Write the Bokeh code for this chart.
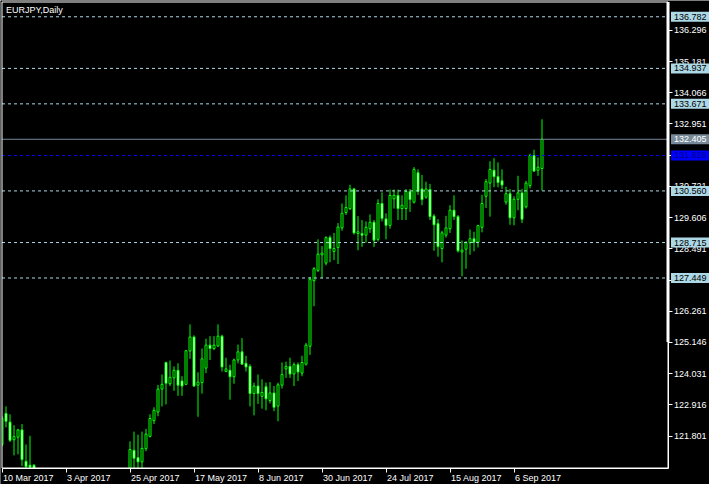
import math
from bokeh.plotting import figure
from bokeh.models import ColumnDataSource, FixedTicker, LinearAxis, Range1d, Label
from bokeh.core.properties import value
from bokeh.embed import file_html
from bokeh.resources import INLINE

nan = float("nan")

# Daily EURJPY candles, bar index 0 = 10 Mar 2017 (weekdays only)
opens = [121.50, 122.61, 122.30, 121.67, 121.76, 122.02, 120.90, 120.76, 120.76] + [nan] * 23 + [
    120.59, 121.29, 121.03, 120.88, 121.35, 121.79, 122.35, 122.66, 123.48, 124.43,
    123.67, 123.88, 124.15, 123.77, 123.65, 124.84, 125.34, 123.62, 123.71, 124.23,
    125.05, 124.93, 125.02, 125.37, 124.11, 124.15, 123.92, 124.52, 124.81, 124.40,
    124.29, 123.32, 123.59, 123.22, 123.56, 123.07, 123.34, 122.87, 123.62, 124.20,
    124.29, 124.02, 124.35, 124.05, 124.37, 125.01, 127.35, 127.72, 128.28, 127.98,
    128.89, 128.40, 128.54, 129.24, 129.79, 129.93, 130.63, 129.04, 129.04, 128.98,
    129.21, 129.44, 128.83, 130.11, 129.56, 129.33, 130.28, 130.40, 129.93, 129.93,
    130.54, 130.16, 131.21, 130.63, 130.34, 130.61, 129.66, 129.39, 128.50, 128.98,
    129.21, 129.87, 129.64, 128.38, 128.48, 128.71, 128.85, 128.73, 129.26, 130.37,
    130.84, 131.30, 131.07, 130.92, 130.16, 130.46, 129.60, 130.26, 130.49, 129.99,
    130.75, 131.82, 131.30, 131.36]
highs = [122.51, 122.86, 122.58, 122.19, 122.06, 122.23, 121.50, 121.81, 120.80] + [nan] * 23 + [
    121.61, 121.96, 121.85, 121.96, 122.06, 122.58, 122.83, 123.63, 124.00, 124.46,
    124.50, 124.29, 124.40, 123.94, 124.87, 125.79, 125.40, 124.08, 124.93, 125.28,
    125.37, 125.37, 125.79, 125.42, 124.60, 124.35, 124.57, 125.07, 125.30, 124.67,
    124.37, 123.71, 124.00, 123.83, 123.71, 123.73, 123.59, 123.71, 124.43, 124.46,
    124.60, 124.43, 124.43, 124.67, 125.13, 127.49, 127.84, 128.83, 128.59, 128.94,
    128.97, 129.06, 129.41, 130.11, 130.40, 130.78, 130.67, 129.66, 129.52, 129.47,
    129.72, 129.52, 130.26, 130.51, 129.76, 130.61, 130.61, 130.61, 130.40, 130.63,
    130.63, 131.41, 131.33, 131.13, 130.89, 130.81, 129.73, 129.55, 129.14, 129.67,
    130.05, 130.40, 129.70, 128.79, 128.77, 129.18, 129.10, 129.35, 130.42, 130.98,
    131.62, 131.73, 131.58, 131.33, 130.71, 130.63, 130.37, 131.10, 130.63, 130.92,
    131.89, 132.03, 131.76, 133.12]
lows = [121.43, 122.11, 121.59, 121.11, 121.15, 120.73, 120.55, 120.55, 120.48] + [nan] * 23 + [
    120.48, 120.59, 120.59, 120.59, 121.26, 121.75, 122.23, 122.51, 122.86, 122.93,
    123.59, 123.42, 123.24, 123.24, 123.62, 124.56, 123.56, 122.49, 123.32, 124.05,
    124.52, 124.87, 124.99, 124.11, 124.08, 123.10, 123.67, 124.40, 124.35, 124.11,
    122.86, 122.54, 122.95, 122.78, 122.72, 122.97, 122.69, 122.33, 123.50, 123.88,
    123.88, 123.59, 123.77, 123.94, 124.32, 124.70, 126.44, 127.66, 127.43, 127.90,
    128.01, 128.09, 127.95, 129.14, 129.70, 129.87, 129.00, 128.44, 128.56, 128.71,
    129.06, 128.56, 128.75, 129.47, 128.83, 129.21, 129.93, 129.52, 129.52, 129.52,
    129.81, 130.11, 130.42, 130.05, 130.28, 129.52, 128.42, 128.21, 128.01, 128.89,
    129.06, 129.52, 128.36, 127.51, 127.78, 128.28, 128.40, 128.54, 129.08, 129.95,
    129.64, 130.69, 130.69, 130.63, 130.07, 129.35, 129.33, 129.87, 129.41, 129.93,
    130.65, 131.23, 131.10, 130.57]
closes = [122.44, 122.33, 121.65, 121.78, 122.02, 120.96, 120.71, 120.69, 120.59] + [nan] * 23 + [
    121.32, 121.01, 120.88, 121.36, 121.87, 122.43, 122.72, 123.48, 123.65, 123.69,
    123.90, 124.15, 123.62, 123.59, 124.85, 125.34, 123.59, 123.73, 124.56, 125.05,
    124.93, 125.05, 125.37, 124.27, 124.20, 123.92, 124.52, 124.81, 124.37, 124.27,
    123.32, 123.59, 123.32, 123.36, 123.13, 123.34, 122.83, 123.63, 124.00, 124.29,
    124.02, 124.35, 124.09, 124.43, 125.05, 127.40, 127.78, 128.30, 128.34, 128.89,
    128.50, 128.50, 129.27, 129.76, 129.97, 130.63, 129.06, 129.10, 128.98, 129.26,
    129.44, 128.80, 130.11, 129.58, 129.33, 130.40, 130.40, 129.93, 130.05, 130.54,
    130.25, 131.33, 130.54, 130.25, 130.63, 129.64, 129.35, 128.57, 129.06, 129.24,
    129.87, 129.64, 128.42, 128.44, 128.71, 128.85, 128.73, 129.32, 130.11, 130.89,
    131.33, 131.07, 130.86, 130.77, 130.46, 129.60, 130.26, 130.49, 129.55, 130.84,
    131.82, 131.27, 131.41, 132.41]

date_ticks = [0, 16, 32, 48, 64, 80, 96, 112, 128]
date_labels = ["10 Mar 2017", "3 Apr 2017", "25 Apr 2017", "17 May 2017", "8 Jun 2017",
               "30 Jun 2017", "24 Jul 2017", "15 Aug 2017", "6 Sep 2017"]
price_tick_labels = ["136.296", "135.181", "134.066", "132.951", "131.836", "130.721",
                     "129.606", "128.491", "127.376", "126.261", "125.146", "124.031",
                     "122.916", "121.801"]
level_prices = [136.782, 134.937, 133.671, 130.560, 128.715, 127.449]
bid_price = 132.405
blue_price = 131.826
title_text = "EURJPY,Daily"

# ---- layout (screen geometry) ----
W, H = 709, 484
SX = 4.0                     # px per bar
CHART_L, CHART_R = 0.0, 166.5
PX_L = 1.5                   # screen x of the chart's left border
Y_BOT, Y_TOP = 120.66, 137.31
PX_T, CH = 1.5, 466.0        # screen y of top border, chart height in px
SY = CH / (Y_TOP - Y_BOT)
x_start = CHART_L - PX_L / SX
x_end = x_start + W / SX
y_end = Y_TOP + PX_T / SY
y_start = y_end - H / SY

GREEN = "#00FF00"
LBLUE = "#ADD8E6"
FONT = "Liberation Sans"
FS = "9px"

p = figure(width=W, height=H, x_range=Range1d(x_start, x_end),
           y_range=Range1d(y_start, y_end), output_backend="svg",
           toolbar_location=None, background_fill_color="black",
           border_fill_color="black", outline_line_color=None,
           x_axis_location=None, y_axis_location=None, min_border=0)
p.xgrid.visible = False
p.ygrid.visible = False

# ---- candles ----
idx = list(range(len(opens)))
valid = [i for i in idx if not math.isnan(opens[i])]
p.segment(x0=valid, y0=[highs[i] for i in valid], x1=valid, y1=[lows[i] for i in valid],
          line_color=GREEN, line_width=1)
bull = [i for i in valid if closes[i] >= opens[i]]
bear = [i for i in valid if closes[i] < opens[i]]

def body(ids):
    top = [max(opens[i], closes[i]) for i in ids]
    bot = [min(opens[i], closes[i]) for i in ids]
    top = [t if t - b > 0.03 else b + 0.03 for t, b in zip(top, bot)]
    return ColumnDataSource(dict(x=ids, top=top, bottom=bot))

p.vbar(x="x", top="top", bottom="bottom", width=0.5, source=body(bull),
       fill_color="black", line_color=GREEN, line_width=1)
p.vbar(x="x", top="top", bottom="bottom", width=0.5, source=body(bear),
       fill_color="white", line_color=GREEN, line_width=1)

# mask what lies outside the chart window
p.quad(left=[x_start, x_start], right=[x_end, CHART_L], bottom=[y_start, Y_BOT],
       top=[Y_BOT, y_end], fill_color="black", line_color=None)

# ---- level lines ----
lv_src = ColumnDataSource(dict(y=level_prices))
p.segment(x0=CHART_L, x1=CHART_R, y0="y", y1="y", source=lv_src,
          line_color=LBLUE, line_dash="3 3", line_width=1)
p.segment(x0=[CHART_L], x1=[CHART_R], y0=[bid_price], y1=[bid_price],
          line_color="#778899", line_width=1)
p.segment(x0=[CHART_L], x1=[CHART_R], y0=[blue_price], y1=[blue_price],
          line_color="#0000FF", line_dash="3 3", line_width=1)

# chart border
p.quad(left=[CHART_L], right=[CHART_R], bottom=[Y_BOT], top=[Y_TOP],
       fill_color=None, line_color="white", line_width=1)
p.segment(x0=[CHART_R], x1=[CHART_R], y0=[Y_TOP], y1=[125.16],
          line_color="white", line_width=3)

# ---- axes (pinned to the chart window) ----
pticks = [float(s) for s in price_tick_labels]
yaxis = LinearAxis(fixed_location=CHART_R, bounds=(Y_BOT, Y_TOP),
                   ticker=FixedTicker(ticks=pticks),
                   major_label_overrides={t: s for t, s in zip(pticks, price_tick_labels)},
                   axis_line_color="white", major_tick_line_color="white",
                   major_tick_out=4, major_tick_in=0, minor_tick_line_color=None,
                   major_label_text_color="white", major_label_text_font=FONT,
                   major_label_text_font_size=FS, major_label_standoff=2)
p.add_layout(yaxis, "right")

xaxis = LinearAxis(fixed_location=Y_BOT, bounds=(CHART_L, CHART_R),
                   ticker=FixedTicker(ticks=date_ticks),
                   major_label_overrides={t: "" for t in date_ticks},
                   axis_line_color="white", major_tick_line_color="white",
                   major_tick_out=4, major_tick_in=0, minor_tick_line_color=None,
                   major_label_text_color="white")
p.add_layout(xaxis, "below")

# date labels start just right of their tick (as in MetaTrader)
CW = {"0": 556, "1": 556, "2": 556, "3": 556, "4": 556, "5": 556, "6": 556, "7": 556,
      "8": 556, "9": 556, " ": 278, "M": 833, "A": 667, "J": 500, "S": 667, "a": 556,
      "r": 333, "p": 556, "y": 500, "u": 556, "n": 556, "l": 222, "g": 556, "e": 556}

def text_w(s):
    return sum(CW.get(c, 556) for c in s) * 9 / 1000

lab_pos = [round(t + (1 + text_w(s) / 2) / SX, 3) for t, s in zip(date_ticks, date_labels)]
xlab = LinearAxis(fixed_location=Y_BOT, ticker=FixedTicker(ticks=lab_pos),
                  major_label_overrides={t: s for t, s in zip(lab_pos, date_labels)},
                  axis_line_color=None, major_tick_line_color=None,
                  major_tick_out=4, major_tick_in=0, minor_tick_line_color=None,
                  major_label_text_color="white", major_label_text_font=FONT,
                  major_label_text_font_size=FS, major_label_standoff=1)
p.add_layout(xlab, "below")

# ---- price boxes on the scale ----
box_prices = level_prices + [bid_price, blue_price]
box_fill = [LBLUE] * len(level_prices) + ["#778899", "#0000FF"]
box_text_col = ["black"] * len(level_prices) + ["white", "#000080"]
bsrc = ColumnDataSource(dict(y=box_prices, fill=box_fill, tc=box_text_col,
                             t=[f"{v:.3f}" for v in box_prices]))
p.rect(x=CHART_R + 22 / SX, y="y", width=38, height=10, width_units="screen",
       height_units="screen", fill_color="fill", line_color=None, source=bsrc,
       level="overlay")
p.text(x=CHART_R + 6 / SX, y="y", text="t", text_color="tc", source=bsrc,
       text_font=value(FONT), text_font_size=value(FS), text_baseline="middle",
       text_align="left", level="overlay")

# title
p.add_layout(Label(x=CHART_L + 4 / SX, y=Y_TOP - 8 / SY, text=title_text,
                   text_color="white", text_font=FONT, text_font_size=FS,
                   text_baseline="middle"))

open("out.html", "w").write(file_html(p, INLINE))
